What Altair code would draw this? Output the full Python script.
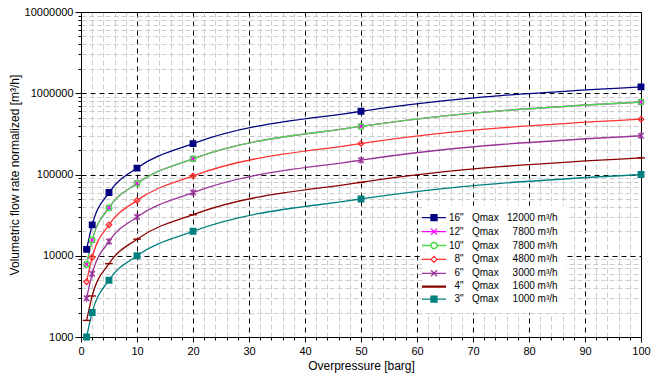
import altair as alt
import pandas as pd

pressure = [1, 2, 5, 10, 20, 50, 100]
sizes = ['16"', '12"', '10"', '8"', '6"', '4"', '3"']
qmax = [12000, 7800, 7800, 4800, 3000, 1600, 1000]
flow_16 = [12000, 24000, 60000, 120000, 240000, 600000, 1200000]
flow_12 = [7800, 15600, 39000, 78000, 156000, 390000, 780000]
flow_10 = [7800, 15600, 39000, 78000, 156000, 390000, 780000]
flow_8 = [4800, 9600, 24000, 48000, 96000, 240000, 480000]
flow_6 = [3000, 6000, 15000, 30000, 60000, 150000, 300000]
flow_4 = [1600, 3200, 8000, 16000, 32000, 80000, 160000]
flow_3 = [1000, 2000, 5000, 10000, 20000, 50000, 100000]
flows = [flow_16, flow_12, flow_10, flow_8, flow_6, flow_4, flow_3]

colors = ["#000080", "#ff00ff", "#44dd44", "#ff3333", "#993399", "#8b0000", "#008080"]
fills = ["#000080", "transparent", "transparent", "transparent", "transparent", "transparent", "#008080"]

NB = "\u00a0"  # two no-break spaces are one digit wide in Liberation Sans
ZW = "\u200b"  # keeps leading padding from being trimmed
labels = [
    f"{ZW}{NB * 2 * (3 - len(s))}{s}{NB*3}Qmax{NB*3}{NB * 2 * (5 - len(str(q)))}{q}{NB}m³/h"
    for s, q in zip(sizes, qmax)
]

marker_shapes = [
    "square",
    "M-1,-1L1,1M-1,1L1,-1",
    "circle",
    "diamond",
    "M-1,-1L1,1M-1,1L1,-1M0,-1.3V1.3",
    "M-1.4,0H1.4",
    "square",
]
legend_shapes = [
    "M-4,0H-1M1,0H4M-1,-1H1V1H-1Z",
    "M-4,0H4M-1,-1L1,1M-1,1L1,-1",
    "M-4,0H-1M1,0H4M1,0A1,1 0 1,1 -1,0A1,1 0 1,1 1,0Z",
    "M-4,0H-1M1,0H4M0,-1L1,0L0,1L-1,0Z",
    "M-4,0H4M-1,-1L1,1M-1,1L1,-1",
    "M-4,0H4M-4,0.3H4",
    "M-4,0H-1M1,0H4M-1,-1H1V1H-1Z",
]

rows = []
for lab, fl in zip(labels, flows):
    for p, v in zip(pressure, fl):
        rows.append({"series": lab, "p": p, "flow": v})
df = pd.DataFrame(rows)

x_scale = alt.Scale(domain=[0, 100], nice=False, zero=False)
y_scale = alt.Scale(type="log", domain=[1000, 10000000], nice=False)

x_major_vals = list(range(0, 101, 10))
x_minor_vals = [v for v in range(0, 101, 2) if v % 10 != 0]
y_major_vals = [1000, 10000, 100000, 1000000, 10000000]
y_minor_vals = [m * d for d in [1000, 10000, 100000, 1000000] for m in range(2, 10)]

color_scale = alt.Scale(domain=labels, range=colors)
fill_scale = alt.Scale(domain=labels, range=fills)

x_minor = alt.X("p:Q", scale=x_scale, axis=alt.Axis(
    values=x_minor_vals, labels=False, title=None, domain=False, tickSize=3,
    tickColor="black", grid=True, gridColor="#cccccc", gridDash=[5, 3], gridWidth=1,
    orient="bottom"))
y_minor = alt.Y("flow:Q", scale=y_scale, axis=alt.Axis(
    values=y_minor_vals, labels=False, title=None, domain=False, tickSize=3,
    tickColor="black", grid=True, gridColor="#cccccc", gridDash=[5, 3], gridWidth=1,
    orient="left"))

x_major = alt.X("p:Q", scale=x_scale, axis=alt.Axis(
    values=x_major_vals, format="d", title="Overpressure [barg]", tickSize=5,
    tickColor="black", grid=True, gridColor="#000000", gridDash=[5, 4], gridWidth=1,
    labelPadding=3, titlePadding=4, orient="bottom"))
y_major = alt.Y("flow:Q", scale=y_scale, axis=alt.Axis(
    values=y_major_vals, format="d", title="Volumetric flow rate normalized [m³/h]",
    tickSize=6, tickColor="black", grid=True, gridColor="#000000", gridDash=[5, 4],
    gridWidth=1, orient="left", labelPadding=2, titlePadding=3))

lines = alt.Chart(df).mark_line(interpolate="monotone", strokeWidth=1.3).encode(
    x=x_minor, y=y_minor,
    color=alt.Color("series:N", scale=color_scale, legend=None),
    detail="series:N")

points = alt.Chart(df).mark_point(filled=False, size=30, strokeWidth=1.4, opacity=1).encode(
    x=x_major, y=y_major,
    color=alt.Color("series:N", scale=color_scale, legend=None),
    shape=alt.Shape("series:N", scale=alt.Scale(domain=labels, range=marker_shapes), legend=None),
    fill=alt.Fill("series:N", scale=fill_scale, legend=None),
)

LEG_PAD = 7
legend_layer = alt.Chart(df).mark_point(filled=False, opacity=0).encode(
    x=alt.X("p:Q", scale=x_scale, axis=None),
    y=alt.Y("flow:Q", scale=y_scale, axis=None),
    color=alt.Color("series:N", scale=color_scale,
                    legend=alt.Legend(orient="none", legendX=348 - LEG_PAD,
                                      legendY=200.7 - LEG_PAD, title=None,
                                      symbolSize=36, symbolStrokeWidth=1.3, labelFontSize=10,
                                      labelOffset=10, rowPadding=1.9, padding=LEG_PAD,
                                      fillColor="white", strokeColor="white",
                                      symbolOpacity=1, labelFont="Liberation Sans",
                                      labelColor="black", labelLimit=300)),
    shape=alt.Shape("series:N", scale=alt.Scale(domain=labels, range=legend_shapes)),
    fill=alt.Fill("series:N", scale=fill_scale),
)

chart = alt.layer(lines, points, legend_layer).resolve_scale(
    shape="independent", color="independent", fill="independent"
).resolve_legend(
    color="independent", shape="independent", fill="independent"
).resolve_axis(x="independent", y="independent").properties(
    width=560, height=325,
    autosize=alt.AutoSizeParams(type="none"),
    padding={"left": 81, "top": 12, "right": 12, "bottom": 40},
    background="white",
).configure_view(stroke="black", strokeWidth=1).configure_axis(
    domainColor="black", labelFont="Liberation Sans", titleFont="Liberation Sans",
    labelFontSize=11, titleFontSize=12, labelColor="black", titleColor="black",
    titleFontWeight="normal", labelFlush=False,
)

chart.save("out.html", embed_options={"renderer": "svg", "actions": False})
